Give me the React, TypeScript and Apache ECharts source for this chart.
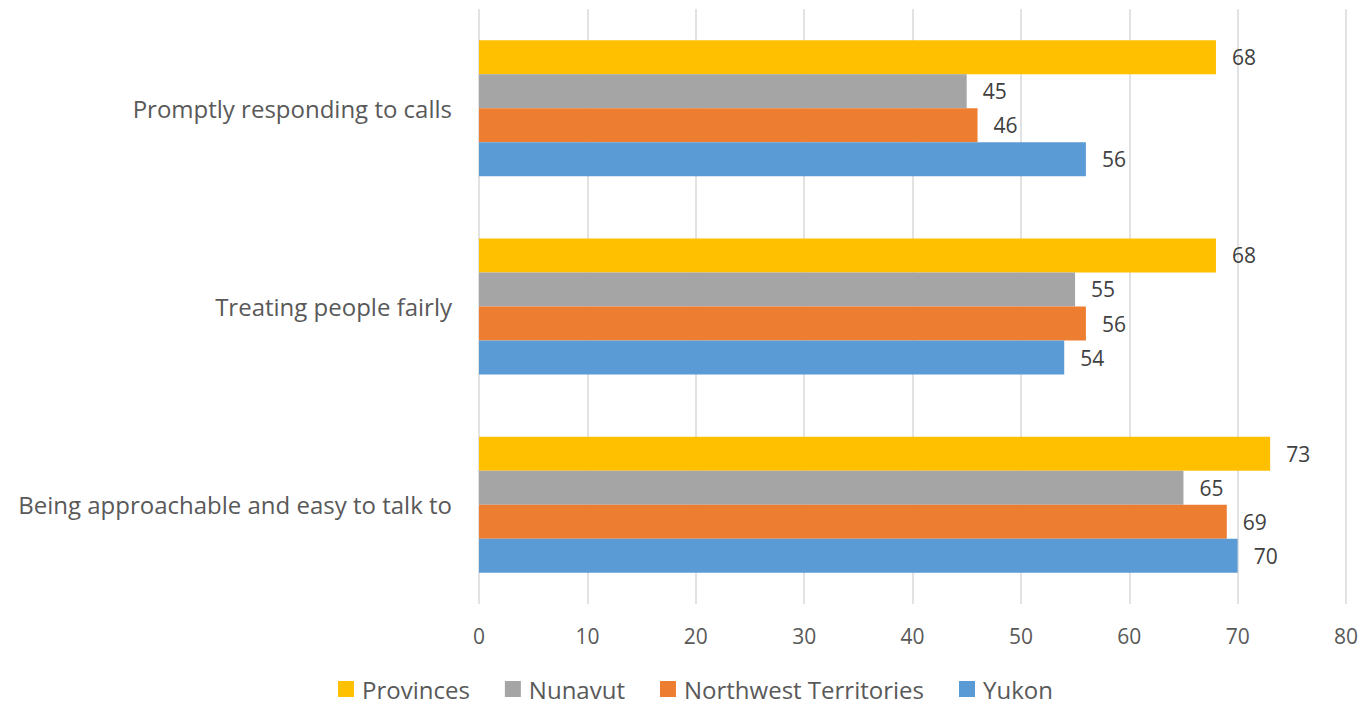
import React, { useEffect, useRef } from "react";
import * as echarts from "echarts";

const categories = [
  "Promptly responding to calls",
  "Treating people fairly",
  "Being approachable and easy to talk to",
];
const provinces = [68, 68, 73];
const nunavut = [45, 55, 65];
const northwestTerritories = [46, 56, 69];
const yukon = [56, 54, 70];
const xTicks = { min: 0, max: 80, interval: 10 };

const FONT = "'Open Sans', sans-serif";

export default function App() {
  const ref = useRef<HTMLDivElement>(null);
  useEffect(() => {
    const chart = echarts.init(ref.current!, null, { renderer: "svg" });
    const label = {
      show: true,
      position: "right" as const,
      distance: 16,
      color: "#404040",
      fontSize: 21,
      fontFamily: FONT,
    };
    const mk = (name: string, data: number[], color: string) => ({
      name,
      type: "bar" as const,
      data,
      itemStyle: { color },
      label,
      barGap: "0%",
      barCategoryGap: "31.4%",
    });
    chart.setOption({
      animation: false,
      backgroundColor: "#ffffff",
      grid: { left: 479, right: 17, top: 9, bottom: 103, containLabel: false },
      legend: {
        left: 333,
        top: 672,
        icon: "rect",
        itemWidth: 16,
        itemHeight: 16,
        itemGap: 35,
        data: ["Provinces", "Nunavut", "Northwest Territories", "Yukon"],
        textStyle: {
          color: "#595959",
          fontSize: 24,
          fontFamily: FONT,
          padding: [0, 0, 0, 3],
        },
      },
      xAxis: {
        type: "value",
        min: xTicks.min,
        max: xTicks.max,
        interval: xTicks.interval,
        axisLine: { show: false },
        axisTick: { show: false },
        splitLine: { show: true, lineStyle: { color: "#D9D9D9", width: 1.5 } },
        axisLabel: {
          color: "#595959",
          fontSize: 21,
          fontFamily: FONT,
          margin: 21,
        },
      },
      yAxis: {
        type: "category",
        data: categories,
        inverse: true,
        axisLine: { show: false },
        axisTick: { show: false },
        axisLabel: {
          color: "#595959",
          fontSize: 24,
          fontFamily: FONT,
          margin: 27,
        },
      },
      series: [
        mk("Provinces", provinces, "#FFC000"),
        mk("Nunavut", nunavut, "#A5A5A5"),
        mk("Northwest Territories", northwestTerritories, "#ED7D31"),
        mk("Yukon", yukon, "#5B9BD5"),
      ],
    });
    return () => chart.dispose();
  }, []);
  return (
    <div
      ref={ref}
      style={{ position: "absolute", left: 0, top: 0, width: 1363, height: 707 }}
    />
  );
}
